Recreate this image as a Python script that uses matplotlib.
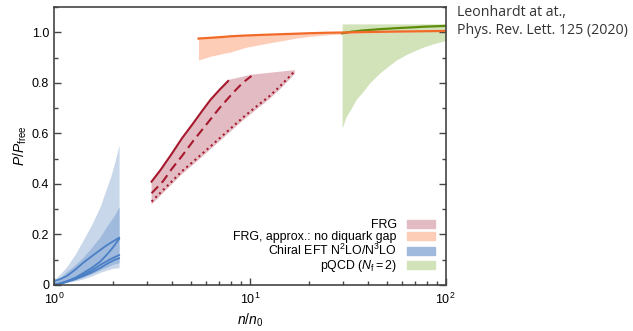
import numpy as np
import matplotlib.pyplot as plt
from matplotlib.patches import Patch
from matplotlib.ticker import MultipleLocator, FixedFormatter, FixedLocator

plt.rcParams['font.family'] = ['Liberation Sans', 'DejaVu Sans']
plt.rcParams['mathtext.fontset'] = 'custom'
plt.rcParams['mathtext.rm'] = 'Liberation Sans'
plt.rcParams['mathtext.it'] = 'Liberation Sans:italic'

# chiral EFT (blue)
eft_x = [1.0, 1.08, 1.16, 1.28, 1.41, 1.56, 1.72, 1.85, 1.95, 2.05, 2.15]
eft_light_lo = [0.0, 0.004, 0.01, 0.016, 0.024, 0.036, 0.05, 0.058, 0.064, 0.067, 0.068]
eft_light_hi = [0.02, 0.045, 0.072, 0.12, 0.178, 0.24, 0.31, 0.38, 0.43, 0.49, 0.555]
eft_mid_lo = [0.0, 0.006, 0.014, 0.022, 0.032, 0.045, 0.06, 0.07, 0.078, 0.084, 0.088]
eft_mid_hi = [0.01, 0.03, 0.053, 0.08, 0.11, 0.15, 0.19, 0.23, 0.255, 0.28, 0.31]
eft_line_a = [0.015, 0.024, 0.035, 0.06, 0.088, 0.114, 0.138, 0.156, 0.167, 0.177, 0.187]
eft_line_b = [0.0, 0.006, 0.013, 0.028, 0.047, 0.068, 0.092, 0.118, 0.138, 0.16, 0.182]
eft_line_c = [0.0, 0.007, 0.015, 0.027, 0.04, 0.058, 0.079, 0.093, 0.103, 0.111, 0.118]
eft_line_d = [0.0, 0.005, 0.012, 0.022, 0.035, 0.05, 0.067, 0.082, 0.092, 0.1, 0.106]

# FRG (red)
frg_solid_x = [3.15, 3.5, 4.0, 4.5, 5.14, 5.7, 6.3, 7.0, 7.75]
frg_solid_y = [0.409, 0.455, 0.52, 0.58, 0.64, 0.688, 0.733, 0.772, 0.807]
frg_dash_x = [3.15, 3.6, 4.0, 4.5, 5.14, 6.0, 7.0, 8.2, 9.2, 10.2]
frg_dash_y = [0.363, 0.41, 0.46, 0.51, 0.57, 0.635, 0.7, 0.76, 0.8, 0.827]
frg_dot_x = [3.15, 3.6, 4.0, 4.5, 5.0, 6.0, 7.0, 8.0, 9.3, 10.8, 12.5, 14.0, 15.5, 17.0]
frg_dot_y = [0.33, 0.375, 0.41, 0.45, 0.48, 0.534, 0.58, 0.62, 0.665, 0.706, 0.745, 0.78, 0.815, 0.847]
frg_top_x = [7.75, 10.2, 17.0]
frg_top_y = [0.809, 0.832, 0.85]

# FRG approx., no diquark gap (orange)
ora_x = [5.47, 6.3, 7.2, 8.0, 9.5, 12.0, 14.2, 17.0, 20.0, 25.0, 30.0, 40.0, 60.0, 100.0]
ora_line = [0.975, 0.978, 0.981, 0.984, 0.987, 0.99, 0.992, 0.994, 0.996, 0.998, 0.999, 1.001, 1.003, 1.005]
ora_hi = [0.981, 0.983, 0.986, 0.988, 0.991, 0.993, 0.995, 0.997, 0.999, 1.0, 1.001, 1.003, 1.004, 1.006]
ora_lo = [0.89, 0.905, 0.915, 0.922, 0.94, 0.955, 0.965, 0.976, 0.983, 0.99, 0.993, 0.997, 1.0, 1.004]

# pQCD (green)
pq_x = [29.6, 31.0, 33.0, 35.0, 37.8, 41.0, 46.0, 51.0, 56.0, 63.0, 70.8, 78.0, 85.0, 92.0, 100.0]
pq_lo = [0.62, 0.665, 0.7, 0.735, 0.765, 0.8, 0.838, 0.866, 0.89, 0.912, 0.93, 0.943, 0.952, 0.96, 0.967]
pq_hi = [1.033] * 15
pq_line = [0.996, 0.998, 1.002, 1.004, 1.007, 1.009, 1.012, 1.014, 1.016, 1.018, 1.02, 1.022, 1.023, 1.024, 1.025]

labels = ['FRG', 'FRG, approx.: no diquark gap',
          r'Chiral EFT N$^2$LO/N$^3$LO', r'pQCD ($N_\mathrm{f}=2$)']

c_red = '#a6192e'
c_red_band = '#e3bcc3'
c_ora = '#f26a28'
c_ora_band = '#fdcdb8'
c_blue = '#4a7fc6'
c_blue_light = '#c9d7ea'
c_blue_mid = '#9fbadd'
c_green = '#5e8c0a'
c_green_band = '#d2e2b9'

fig = plt.figure(figsize=(6.33, 3.31), dpi=100)
ax = fig.add_axes([0.0853, 0.139, 0.6187, 0.84])

ax.fill_between(pq_x, pq_lo, pq_hi, color=c_green_band, lw=0)
ax.plot(pq_x, pq_line, color=c_green, lw=1.6)

ax.fill_between(ora_x, ora_lo, ora_hi, color=c_ora_band, lw=0)

ax.fill_between(eft_x, eft_light_lo, eft_light_hi, color=c_blue_light, lw=0)
ax.fill_between(eft_x, eft_mid_lo, eft_mid_hi, color=c_blue_mid, lw=0)
for ys in [eft_line_a, eft_line_b, eft_line_c, eft_line_d]:
    ax.plot(eft_x, ys, color=c_blue, lw=1.3)

band_x = list(frg_solid_x) + frg_top_x[1:] + frg_dot_x[::-1]
band_y = [y + 0.004 for y in frg_solid_y] + frg_top_y[1:] + [y - 0.012 for y in frg_dot_y[::-1]]
ax.fill(band_x, band_y, color=c_red_band, lw=0)
ax.plot(frg_solid_x, frg_solid_y, color=c_red, lw=1.5)
ax.plot(frg_dash_x, frg_dash_y, color=c_red, lw=1.5, ls=(0, (4.5, 2.5)))
ax.plot(frg_dot_x, frg_dot_y, color=c_red, lw=1.5, ls=(0, (1, 1.6)))

ax.plot(ora_x, ora_line, color=c_ora, lw=1.6)

ax.set_xscale('log')
ax.set_xlim(1, 100)
ax.set_ylim(0, 1.1)
ax.yaxis.set_major_locator(FixedLocator([0, 0.2, 0.4, 0.6, 0.8, 1.0]))
ax.yaxis.set_major_formatter(FixedFormatter(['0', '0.2', '0.4', '0.6', '0.8', '1.0']))
ax.yaxis.set_minor_locator(MultipleLocator(0.1))
ax.tick_params(which='both', direction='in', right=True, top=False,
               labelsize=9, color='#444444', width=1)
ax.tick_params(which='major', length=5)
ax.tick_params(which='minor', length=3)
ax.tick_params(axis='x', which='major', pad=5)
for s in ax.spines.values():
    s.set_linewidth(1.2)
    s.set_color('#444444')

ax.set_xlabel(r'$n/n_0$', fontsize=10, labelpad=3)
ax.set_ylabel(r'$P/P_\mathrm{free}$', fontsize=10, labelpad=2)

handles = [Patch(color=c) for c in [c_red_band, c_ora_band, c_blue_mid, c_green_band]]
ax.legend(handles, labels, loc='lower right', frameon=False, markerfirst=False,
          fontsize=8.9, handlelength=2.3, handleheight=0.65, labelspacing=0.0,
          borderaxespad=0.45, handletextpad=0.8)

fig.text(0.722, 0.985, 'Leonhardt at at.,\nPhys. Rev. Lett. 125 (2020)',
         family=['Open Sans', 'DejaVu Sans'], fontsize=10.2, color='#333333',
         va='top', ha='left', linespacing=1.25)

fig.savefig('out.png', dpi=100)
